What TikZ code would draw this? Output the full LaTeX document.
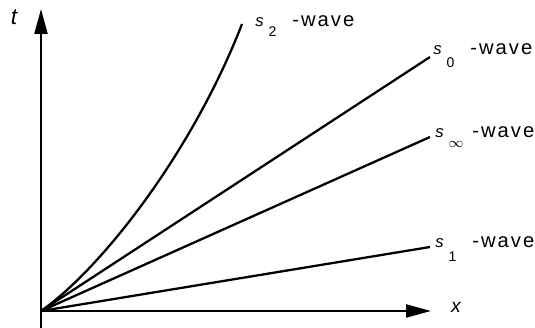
\documentclass[tikz,border=0pt]{standalone}
\usepackage{fontspec}
\setmainfont{Liberation Sans}
\newfontfamily\wavefont[LetterSpace=10]{Liberation Sans}
\usetikzlibrary{arrows.meta,calc,positioning}

% s with a lowered index, then the spaced "-wave"
\newcommand{\wavetag}[2][-.24cm]{\makebox[.74cm][l]{\fontsize{9.5}{10}\selectfont\textit{s}\kern.1cm\raisebox{#1}{\fontsize{8}{9}\selectfont #2}}{\wavefont\fontsize{11.5}{12}\selectfont -wave}}

\begin{document}
\begin{tikzpicture}[x=.02cm,y=.02cm]
  \tikzset{
    axis/.style={line width=1.3pt,-{Triangle[length=5mm,width=2.6mm]}},
    ray/.style={line width=1.3pt},
    tag/.style={anchor=base west,inner sep=0pt}
  }
  \useasboundingbox (0,0) rectangle (535,328);
  \coordinate (O) at (41,17);
  \coordinate (tFoot) at (41,0);
  \coordinate (tTop) at (41,319);
  \coordinate (xEnd) at (431,17);
  \coordinate (s2end) at (242,304);
  \coordinate (s0end) at (430,271);
  \coordinate (sInfend) at (430,191);
  \coordinate (s1end) at (430,81);
  % axes
  \draw[axis] (tFoot) -- (tTop);
  \draw[axis] (O) -- (xEnd);
  \node[font=\fontsize{13}{14}\selectfont\itshape] (tlab) at (14,311) {t};
  \node[font=\fontsize{11}{12}\selectfont\itshape] (xlab) at (456,21) {x};
  % waves
  \draw[ray] (O) .. controls (101,59) and (192,175) .. (s2end);
  \draw[ray] (O) -- (s0end);
  \draw[ray] (O) -- (sInfend);
  \draw[ray] (O) -- (s1end);
  \node[tag] (s2lab) at ($(s2end)+(13,-3)$) {\wavetag[-.2cm]{2}};
  \node[tag] (s0lab) at ($(s0end)+(3,2)$) {\wavetag[-.26cm]{0}};
  \node[tag] (sInflab) at ($(sInfend)+(5,-1)$) {\wavetag[-.2cm]{$\infty$}};
  \node[tag] (s1lab) at ($(s1end)+(5,-1)$) {\wavetag[-.28cm]{1}};
\end{tikzpicture}
\end{document}
